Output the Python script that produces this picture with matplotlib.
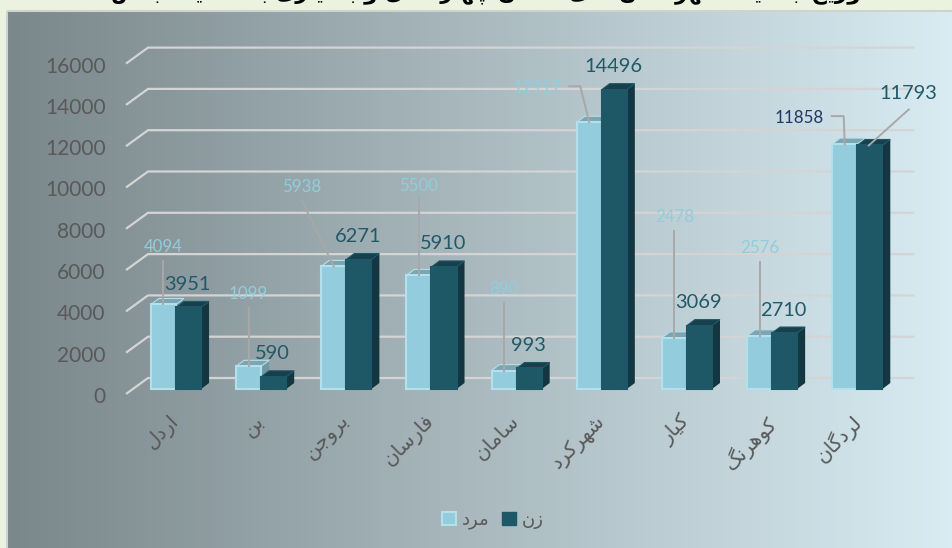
import matplotlib
matplotlib.use("Agg")
import matplotlib.pyplot as plt
import numpy as np
from matplotlib.patches import Patch, Polygon, Rectangle
from matplotlib.transforms import ScaledTranslation

# Persian letters -> (isolated, final, initial, medial), matplotlib does no shaping
FORMS = {
    "ا": (0xFE8D, 0xFE8E, None, None), "د": (0xFEA9, 0xFEAA, None, None),
    "ر": (0xFEAD, 0xFEAE, None, None), "ز": (0xFEAF, 0xFEB0, None, None),
    "و": (0xFEED, 0xFEEE, None, None),
    "ب": (0xFE8F, 0xFE90, 0xFE91, 0xFE92), "ج": (0xFE9D, 0xFE9E, 0xFE9F, 0xFEA0),
    "چ": (0xFB7A, 0xFB7B, 0xFB7C, 0xFB7D), "ح": (0xFEA1, 0xFEA2, 0xFEA3, 0xFEA4),
    "خ": (0xFEA5, 0xFEA6, 0xFEA7, 0xFEA8), "ت": (0xFE95, 0xFE96, 0xFE97, 0xFE98),
    "ع": (0xFEC9, 0xFECA, 0xFECB, 0xFECC),
    "س": (0xFEB1, 0xFEB2, 0xFEB3, 0xFEB4), "ش": (0xFEB5, 0xFEB6, 0xFEB7, 0xFEB8),
    "ف": (0xFED1, 0xFED2, 0xFED3, 0xFED4), "ل": (0xFEDD, 0xFEDE, 0xFEDF, 0xFEE0),
    "م": (0xFEE1, 0xFEE2, 0xFEE3, 0xFEE4), "ن": (0xFEE5, 0xFEE6, 0xFEE7, 0xFEE8),
    "ه": (0xFEE9, 0xFEEA, 0xFEEB, 0xFEEC), "ک": (0xFB8E, 0xFB8F, 0xFB90, 0xFB91),
    "گ": (0xFB92, 0xFB93, 0xFB94, 0xFB95), "ی": (0xFBFC, 0xFBFD, 0xFBFE, 0xFBFF),
}


def shape(word):
    out = []
    for i, c in enumerate(word):
        prev = word[i - 1] if i else None
        nxt = word[i + 1] if i + 1 < len(word) else None
        joins_prev = prev in FORMS and FORMS[prev][2] is not None and c in FORMS
        joins_next = nxt in FORMS and c in FORMS and FORMS[c][2] is not None
        if c not in FORMS:
            out.append(c)
        elif joins_prev and joins_next:
            out.append(chr(FORMS[c][3]))
        elif joins_prev:
            out.append(chr(FORMS[c][1]))
        elif joins_next:
            out.append(chr(FORMS[c][2]))
        else:
            out.append(chr(FORMS[c][0]))
    return "".join(reversed(out))


categories = ["اردل", "بن", "بروجن", "فارسان", "سامان", "شهرکرد", "کیار", "کوهرنگ", "لردگان"]
men = [4094, 1099, 5938, 5500, 890, 12917, 2478, 2576, 11858]
women = [3951, 590, 6271, 5910, 993, 14496, 3069, 2710, 11793]
y_ticks = [0, 2000, 4000, 6000, 8000, 10000, 12000, 14000, 16000]
series_names = ["مرد", "زن"]
title = "توزیع جمعیت شهرستان های استان چهارمحال و بختیاری به تفکیک جنس"

W, H = 953, 548
LIGHT, LIGHT_EDGE, LIGHT_TOP, LIGHT_SIDE = "#93cddd", "#b4e0ec", "#7ba5b0", "#6f98a3"
DARK, DARK_SIDE, DARK_TOP = "#1e5766", "#133642", "#17404c"
TICK = "#595959"

fig = plt.figure(figsize=(W / 100, H / 100), dpi=100, facecolor="#ebf3e0")

bg = fig.add_axes([0, 0, 1, 1], zorder=0)
bg.axis("off")
grad = np.linspace(0, 1, 256).reshape(1, -1, 1)
c0 = np.array([0x7a, 0x87, 0x8b]) / 255
c1 = np.array([0xd9, 0xec, 0xf3]) / 255
bg.imshow(c0 + (c1 - c0) * grad, extent=[7, W, H, 11], aspect="auto")
bg.set_xlim(0, W)
bg.set_ylim(H, 0)
bg.add_patch(Rectangle((7, 11), W, H, fill=False, ec="#cfd3d0", lw=1.5))
# the title is cut by the top edge in the reference too, only descenders show
bg.text(490, -1.5, shape(title), family="DejaVu Sans", weight="bold", fontsize=15.5,
        ha="center", va="baseline", color="black", clip_on=False)

# axes spans front of the bars: 0 at y=389, 16000 at y=58.6
left, right = 133.4, 899.8
top, bottom = 58.6, 389.0
ax = fig.add_axes([left / W, 1 - bottom / H, (right - left) / W, (bottom - top) / H], zorder=1)
ax.patch.set_alpha(0)
ax.set_xlim(-0.5, 8.5)
ax.set_ylim(0, 16000)
for s in ax.spines.values():
    s.set_visible(False)
px_x = (right - left) / 9
px_y = (bottom - top) / 16000


def ox(px):
    return px / px_x


def oy(px):
    return px / px_y


# floor-front / back-wall offsets of the gridlines, relative to the bar plane
for v in y_ticks:
    xs = [-0.5 + ox(-7.4), -0.5 + ox(14.6), 8.5 + ox(14.6)]
    ys = [v + oy(-5), v + oy(11), v + oy(11)]
    ax.plot(xs, ys, color="#d4d4d4", lw=1.6, clip_on=False, zorder=1, solid_capstyle="butt")

width = 0.295
dep_x, dep_y = ox(8), oy(6)


def box(xc, val, front, edge, top_c, side_c, z):
    x0, x1 = xc - width / 2, xc + width / 2
    ax.add_patch(Polygon([(x1, 0), (x1 + dep_x, dep_y), (x1 + dep_x, val + dep_y), (x1, val)],
                         fc=side_c, ec="none", zorder=z, clip_on=False))
    ax.add_patch(Polygon([(x0, val), (x1, val), (x1 + dep_x, val + dep_y), (x0 + dep_x, val + dep_y)],
                         fc=top_c, ec=edge, lw=0.8, zorder=z, clip_on=False))
    ax.bar(xc, val, width, color=front, edgecolor=edge, linewidth=1.5, zorder=z + 0.1, clip_on=False)


x = np.arange(len(categories))
for i in x:
    box(i - 0.147, men[i], LIGHT, LIGHT_EDGE, LIGHT_TOP, LIGHT_SIDE, 2 + i)
    box(i + 0.147, women[i], DARK, DARK, DARK_TOP, DARK_SIDE, 2.3 + i)

# label centre and leader bends, in pixels relative to the top of each light bar
men_label_pos = [(0, -57), (0, -72), (-32, -79), (0, -89), (0, -82), (-52, -34), (0, -121), (0, -88), (-45, -26)]
men_leaders = [
    [(0, -43), (0, 0)], [(0, -58), (0, 0)], [(-32, -66), (0, 0)], [(0, -76), (0, 0)],
    [(0, -68), (0, 0)], [(-20, -36), (-9, -36), (0, 0)], [(0, -107), (0, 0)],
    [(0, -74), (0, 0)], [(-13, -28), (-1, -28), (0, 0)],
]

for i in x:
    xc, val = i - 0.147, men[i]
    pts = men_leaders[i]
    ax.plot([xc + ox(p[0]) for p in pts], [val - oy(p[1]) for p in pts],
            color="#a8a8a8", lw=1.4, zorder=30, clip_on=False)
    dx, dy = men_label_pos[i]
    col = "#1f3864" if i == 8 else "#92cddc"
    ax.annotate(str(val), (xc, val), xytext=(dx * 0.72, -dy * 0.72), textcoords="offset points",
                ha="center", va="center", fontsize=12.2, color=col, family="Lato", zorder=31)
    # women's labels sit above the bar, only the last one has a leader
    xc2, val2 = i + 0.147, women[i]
    dx2, dy2 = (-1, -23)
    if i == 8:
        dx2, dy2 = 39, -52
        ax.plot([xc2 + ox(-1), xc2 + ox(39)], [val2, val2 + oy(36)],
                color="#a8a8a8", lw=1.4, zorder=30, clip_on=False)
    ax.annotate(str(val2), (xc2, val2), xytext=(dx2 * 0.72, -dy2 * 0.72), textcoords="offset points",
                ha="center", va="center", fontsize=14.4, color="#215968", family="Lato", zorder=31)

ax.set_yticks(y_ticks)
ax.set_yticklabels([str(v) for v in y_ticks], family="Lato", fontsize=15, color=TICK)
ax.tick_params(axis="y", length=0, pad=20)
shift_y = ScaledTranslation(0, -6 / 100, fig.dpi_scale_trans)
for lab in ax.get_yticklabels():
    lab.set_transform(lab.get_transform() + shift_y)

ax.set_xticks(x)
ax.set_xticklabels([shape(c) for c in categories], family="DejaVu Sans", fontsize=14.5,
                   color=TICK, rotation=45, ha="right", va="top", rotation_mode="anchor")
ax.tick_params(axis="x", length=0, pad=16)
shift_x = ScaledTranslation(-7 / 100, 0, fig.dpi_scale_trans)
for lab in ax.get_xticklabels():
    lab.set_transform(lab.get_transform() + shift_x)

handles = [Patch(fc=LIGHT, ec=LIGHT_EDGE, lw=1.5), Patch(fc=DARK, ec=DARK)]
fig.legend(handles, [shape(n) for n in series_names], ncol=2, frameon=False,
           loc="center", bbox_to_anchor=(493 / W, 1 - 520 / H), handlelength=0.75, handleheight=0.75,
           columnspacing=0.7, handletextpad=0.35,
           prop={"family": "DejaVu Sans", "size": 13}, labelcolor=TICK)

fig.savefig("out.png", dpi=100, facecolor=fig.get_facecolor())
